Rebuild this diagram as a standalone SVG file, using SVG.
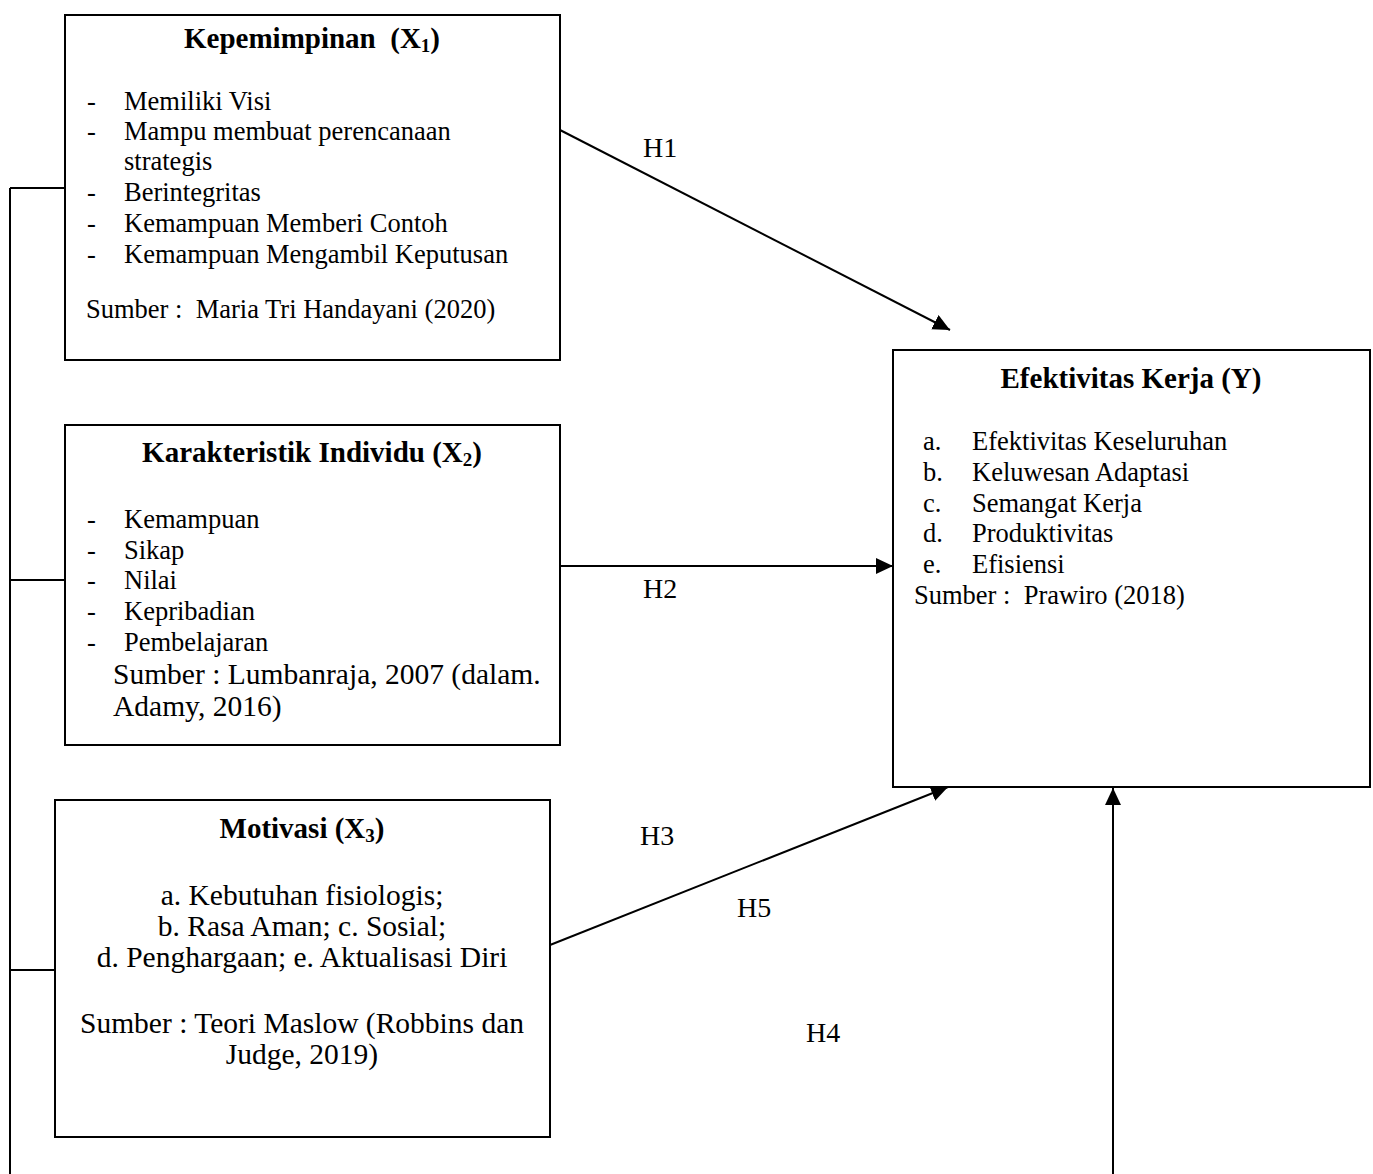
<svg xmlns="http://www.w3.org/2000/svg" width="1373" height="1174" viewBox="0 0 1373 1174">
<style>
text{font-family:"Liberation Serif","Times New Roman",serif;fill:#000}
.t{font-size:29px;font-weight:bold;text-anchor:middle}
.b{font-size:26.5px}
.l{font-size:29.5px}
.c{font-size:29.5px;text-anchor:middle}
.h{font-size:28px}
.sub{font-size:19px}
.box{fill:#fff;stroke:#000;stroke-width:2}
.ln{fill:none;stroke:#000;stroke-width:2}
</style>
<defs>
<marker id="ah" markerUnits="userSpaceOnUse" markerWidth="20" markerHeight="18" refX="17" refY="8" orient="auto">
<path d="M0,0 L17,8 L0,16 Z" fill="#000"/>
</marker>
</defs>
<g id="connectors">
<path class="ln" d="M10,188 V1174"/>
<path class="ln" d="M10,188 H65"/>
<path class="ln" d="M10,580 H65"/>
<path class="ln" d="M10,970 H55"/>
<path class="ln" d="M560,130 L950,330" marker-end="url(#ah)"/>
<path class="ln" d="M560,566 L893,566" marker-end="url(#ah)"/>
<path class="ln" d="M550,945 L948,787" marker-end="url(#ah)"/>
<path class="ln" d="M1113,1174 L1113,788" marker-end="url(#ah)"/>
<text class="h" x="643" y="157">H1</text>
<text class="h" x="643" y="598">H2</text>
<text class="h" x="640" y="845">H3</text>
<text class="h" x="737" y="917">H5</text>
<text class="h" x="806" y="1042">H4</text>
</g>
<g id="x1">
<rect class="box" x="65" y="15" width="495" height="345"/>
<text class="t" x="312" y="48" xml:space="preserve">Kepemimpinan  (X<tspan class="sub" dy="4">1</tspan><tspan dy="-4">)</tspan></text>
<text class="b" x="87" y="110">-</text><text class="b" x="124" y="110">Memiliki Visi</text>
<text class="b" x="87" y="140">-</text><text class="b" x="124" y="140">Mampu membuat perencanaan</text>
<text class="b" x="124" y="170">strategis</text>
<text class="b" x="87" y="201">-</text><text class="b" x="124" y="201">Berintegritas</text>
<text class="b" x="87" y="232">-</text><text class="b" x="124" y="232">Kemampuan Memberi Contoh</text>
<text class="b" x="87" y="263">-</text><text class="b" x="124" y="263">Kemampuan Mengambil Keputusan</text>
<text class="b" x="86" y="318" xml:space="preserve">Sumber :  Maria Tri Handayani (2020)</text>
</g>
<g id="x2">
<rect class="box" x="65" y="425" width="495" height="320"/>
<text class="t" x="312" y="462">Karakteristik Individu (X<tspan class="sub" dy="4">2</tspan><tspan dy="-4">)</tspan></text>
<text class="b" x="87" y="528">-</text><text class="b" x="124" y="528">Kemampuan</text>
<text class="b" x="87" y="559">-</text><text class="b" x="124" y="559">Sikap</text>
<text class="b" x="87" y="589">-</text><text class="b" x="124" y="589">Nilai</text>
<text class="b" x="87" y="620">-</text><text class="b" x="124" y="620">Kepribadian</text>
<text class="b" x="87" y="651">-</text><text class="b" x="124" y="651">Pembelajaran</text>
<text class="l" x="113" y="684">Sumber : Lumbanraja, 2007 (dalam.</text>
<text class="l" x="113" y="716">Adamy, 2016)</text>
</g>
<g id="x3">
<rect class="box" x="55" y="800" width="495" height="337"/>
<text class="t" x="302" y="838">Motivasi (X<tspan class="sub" dy="4">3</tspan><tspan dy="-4">)</tspan></text>
<text class="c" x="302" y="905">a. Kebutuhan fisiologis;</text>
<text class="c" x="302" y="936">b. Rasa Aman; c. Sosial;</text>
<text class="c" x="302" y="967">d. Penghargaan; e. Aktualisasi Diri</text>
<text class="c" x="302" y="1033">Sumber : Teori Maslow (Robbins dan</text>
<text class="c" x="302" y="1064">Judge, 2019)</text>
</g>
<g id="y">
<rect class="box" x="893" y="350" width="477" height="437"/>
<text class="t" x="1131" y="388">Efektivitas Kerja (Y)</text>
<text class="b" x="923" y="450">a.</text><text class="b" x="972" y="450">Efektivitas Keseluruhan</text>
<text class="b" x="923" y="481">b.</text><text class="b" x="972" y="481">Keluwesan Adaptasi</text>
<text class="b" x="923" y="512">c.</text><text class="b" x="972" y="512">Semangat Kerja</text>
<text class="b" x="923" y="542">d.</text><text class="b" x="972" y="542">Produktivitas</text>
<text class="b" x="923" y="573">e.</text><text class="b" x="972" y="573">Efisiensi</text>
<text class="b" x="914" y="604" xml:space="preserve">Sumber :  Prawiro (2018)</text>
</g>
</svg>
